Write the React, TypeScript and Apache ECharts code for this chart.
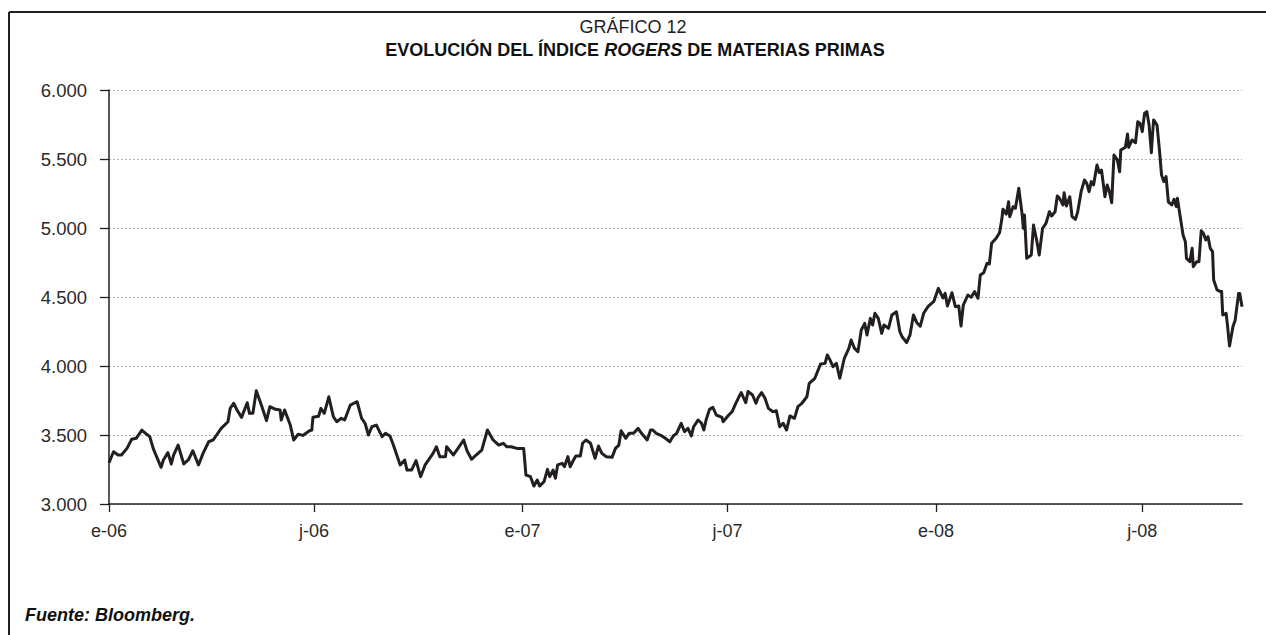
import React, { useEffect, useRef } from "react";
import * as echarts from "echarts";

// Daily category axis: 2006-01-01 + day offset
const START_UTC = Date.UTC(2006, 0, 1);
const DAY_COUNT = 1001;
const TICK_MONTHS = [0, 6];
const MONTH_PREFIX: Record<number, string> = { 0: "e", 6: "j" };

const Y_MIN = 3000;
const Y_MAX = 6000;
const Y_STEP = 500;

const TITLE_TOP = "GRÁFICO 12";
const TITLE_A = "EVOLUCIÓN DEL ÍNDICE ";
const TITLE_ITALIC = "ROGERS";
const TITLE_B = " DE MATERIAS PRIMAS";
const SOURCE = "Fuente: Bloomberg.";

// [day offset from 2006-01-01, index value]
const OBS_2006: [number, number][] = [
  [0, 3299], [4, 3379], [8, 3355], [11, 3355], [16, 3405], [20, 3469], [24, 3476],
  [29, 3536], [33, 3507], [36, 3488], [39, 3403], [42, 3343], [46, 3266], [48, 3319],
  [52, 3372], [55, 3290], [57, 3355], [61, 3427], [66, 3290], [70, 3319], [74, 3386],
  [79, 3283], [83, 3367], [88, 3451], [92, 3464], [95, 3500], [99, 3548], [105, 3596],
  [107, 3693], [110, 3730], [113, 3681], [117, 3628], [122, 3734], [124, 3657], [127, 3657],
  [130, 3821], [135, 3705], [139, 3604], [142, 3705], [147, 3686], [151, 3681], [152, 3609],
  [155, 3681], [160, 3572], [163, 3464], [167, 3505], [171, 3497], [177, 3531], [179, 3536],
  [180, 3628], [185, 3636], [187, 3693], [190, 3657], [194, 3777], [198, 3633], [201, 3596],
  [205, 3621], [208, 3609], [213, 3717], [216, 3730], [219, 3741], [223, 3621], [226, 3585],
  [229, 3500], [232, 3560], [236, 3572], [241, 3488], [244, 3512], [248, 3493], [251, 3427],
  [257, 3283], [261, 3319], [263, 3246], [267, 3246], [271, 3314], [275, 3198], [279, 3283],
  [283, 3331], [286, 3367], [289, 3415], [292, 3343], [297, 3343], [298, 3415], [304, 3355],
  [308, 3403], [313, 3464], [316, 3386], [320, 3324], [324, 3355], [329, 3391], [334, 3536],
  [339, 3464], [344, 3427], [348, 3440], [351, 3415], [355, 3415], [360, 3403], [364, 3403],
];

const OBS_2007: [number, number][] = [
  [366, 3403], [368, 3210], [372, 3198], [375, 3130], [378, 3174], [380, 3130], [384, 3162],
  [387, 3251], [389, 3198], [392, 3246], [394, 3186], [396, 3283], [400, 3295], [402, 3270],
  [405, 3343], [407, 3270], [410, 3319], [412, 3348], [416, 3348], [418, 3440], [421, 3464],
  [425, 3440], [429, 3331], [432, 3420], [435, 3367], [439, 3343], [444, 3338], [447, 3403],
  [450, 3427], [452, 3531], [456, 3476], [459, 3512], [463, 3512], [467, 3548], [470, 3512],
  [475, 3464], [478, 3536], [480, 3536], [483, 3512], [488, 3493], [491, 3476], [495, 3451],
  [498, 3493], [501, 3512], [505, 3585], [508, 3524], [511, 3548], [514, 3493], [516, 3560],
  [520, 3609], [523, 3585], [525, 3536], [527, 3609], [530, 3686], [533, 3700], [536, 3645],
  [541, 3628], [542, 3596], [547, 3645], [550, 3669], [553, 3725], [556, 3777], [558, 3807],
  [562, 3734], [564, 3815], [568, 3790], [571, 3730], [573, 3773], [576, 3807], [579, 3766],
  [582, 3693], [586, 3669], [589, 3676], [592, 3560], [595, 3585], [598, 3536], [601, 3638],
  [605, 3621], [608, 3705], [611, 3725], [616, 3777], [618, 3874], [623, 3911], [628, 4014],
  [632, 4019], [634, 4080], [636, 4049], [639, 3995], [642, 4019], [645, 3911], [649, 4056],
  [653, 4128], [655, 4188], [658, 4128], [661, 4104], [664, 4261], [667, 4309], [669, 4225],
  [672, 4345], [674, 4297], [676, 4382], [679, 4345], [682, 4237], [684, 4297], [688, 4273],
  [691, 4370], [695, 4393], [698, 4249], [700, 4212], [704, 4169], [707, 4225], [710, 4370],
  [713, 4314], [716, 4288], [719, 4382], [723, 4432], [728, 4468],
];

const OBS_2008: [number, number][] = [
  [732, 4563], [736, 4493], [738, 4526], [740, 4435], [744, 4531], [747, 4430], [750, 4435],
  [752, 4290], [754, 4442], [758, 4514], [761, 4498], [764, 4539], [767, 4491], [769, 4659],
  [772, 4676], [775, 4744], [777, 4739], [779, 4889], [783, 4925], [786, 4966], [788, 5063],
  [789, 5136], [792, 5101], [794, 5190], [795, 5082], [798, 5155], [800, 5143], [803, 5288],
  [806, 5094], [807, 4998], [808, 5094], [810, 4780], [814, 4804], [816, 5021], [819, 4901],
  [821, 4804], [824, 4998], [827, 5034], [830, 5118], [832, 5087], [835, 5118], [837, 5232],
  [839, 5215], [842, 5167], [843, 5256], [845, 5160], [848, 5227], [850, 5082], [853, 5063],
  [855, 5118], [858, 5263], [861, 5348], [863, 5324], [865, 5263], [867, 5336], [869, 5312],
  [872, 5457], [874, 5401], [876, 5420], [879, 5227], [881, 5312], [883, 5263], [885, 5183],
  [887, 5529], [890, 5493], [892, 5408], [893, 5565], [897, 5584], [899, 5681], [900, 5584],
  [903, 5638], [906, 5618], [908, 5770], [910, 5758], [912, 5698], [914, 5831], [916, 5843],
  [918, 5746], [920, 5546], [921, 5674], [922, 5783], [925, 5746], [927, 5577], [929, 5384],
  [931, 5336], [933, 5372], [935, 5190], [938, 5167], [940, 5208], [942, 5155], [943, 5215],
  [945, 5106], [948, 4949], [950, 4901], [951, 4780], [954, 4756], [956, 4853], [957, 4720],
  [960, 4756], [962, 4756], [964, 4980], [966, 4961], [968, 4913], [970, 4937], [972, 4853],
  [974, 4829], [975, 4623], [978, 4551], [981, 4539], [982, 4539], [983, 4370], [986, 4382],
  [987, 4309], [989, 4145], [992, 4285], [994, 4333], [997, 4526], [998, 4526], [1000, 4430],
];

const FONT = "'Liberation Sans', Arial, Helvetica, sans-serif";
const INK = "#231f20";

function dayDate(i: number): Date {
  return new Date(START_UTC + i * 86400000);
}

function isTickDay(i: number): boolean {
  const d = dayDate(i);
  return d.getUTCDate() === 1 && TICK_MONTHS.includes(d.getUTCMonth());
}

function fmtThousands(v: number): string {
  const t = Math.floor(v / 1000);
  const r = String(Math.round(v % 1000)).padStart(3, "0");
  return `${t}.${r}`;
}

export default function App() {
  const ref = useRef<HTMLDivElement>(null);

  useEffect(() => {
    if (!ref.current) return;
    const chart = echarts.init(ref.current, undefined, { renderer: "svg" });

    const categories: string[] = [];
    for (let i = 0; i < DAY_COUNT; i++) {
      categories.push(dayDate(i).toISOString().slice(0, 10));
    }
    const series: (number | null)[] = new Array(DAY_COUNT).fill(null);
    [...OBS_2006, ...OBS_2007, ...OBS_2008].forEach(([d, v]) => {
      series[d] = v;
    });

    chart.setOption({
      animation: false,
      backgroundColor: "#ffffff",
      grid: { left: 109, right: 24, top: 90, bottom: 131, containLabel: false },
      xAxis: {
        type: "category",
        data: categories,
        boundaryGap: false,
        axisLine: { show: true, lineStyle: { color: INK, width: 1.5 } },
        axisTick: {
          show: true,
          length: 8,
          interval: (index: number) => isTickDay(index),
          lineStyle: { color: INK, width: 1.3 },
        },
        axisLabel: {
          interval: (index: number) => isTickDay(index),
          margin: 18,
          fontFamily: FONT,
          fontSize: 18,
          color: "#2a2a2a",
          formatter: (value: string) => {
            const m = Number(value.slice(5, 7)) - 1;
            return `${MONTH_PREFIX[m]}-${value.slice(2, 4)}`;
          },
        },
        splitLine: { show: false },
      },
      yAxis: {
        type: "value",
        min: Y_MIN,
        max: Y_MAX,
        interval: Y_STEP,
        axisLine: { show: true, lineStyle: { color: INK, width: 1.5 } },
        axisTick: { show: true, length: 9, lineStyle: { color: INK, width: 1.3 } },
        axisLabel: {
          margin: 22,
          fontFamily: FONT,
          fontSize: 18.5,
          color: "#2a2a2a",
          formatter: (v: number) => fmtThousands(v),
        },
        splitLine: {
          show: true,
          lineStyle: { color: "#b5b5b5", type: [2, 2], width: 1 },
        },
      },
      series: [
        {
          type: "line",
          data: series,
          connectNulls: true,
          showSymbol: false,
          symbol: "none",
          lineStyle: { color: INK, width: 3, join: "round" },
          z: 5,
        },
      ],
      graphic: [
        {
          type: "line",
          shape: { x1: 9, y1: 12, x2: 1266, y2: 12 },
          style: { stroke: INK, lineWidth: 2 },
          silent: true,
        },
        {
          type: "line",
          shape: { x1: 9, y1: 12, x2: 9, y2: 635 },
          style: { stroke: INK, lineWidth: 2 },
          silent: true,
        },
        {
          type: "text",
          x: 633,
          y: 27,
          style: {
            text: TITLE_TOP,
            fontFamily: FONT,
            fontSize: 18,
            fill: "#222",
            align: "center",
            verticalAlign: "middle",
          },
        },
        {
          type: "text",
          x: 635,
          y: 50,
          style: {
            text: `{b|${TITLE_A}}{i|${TITLE_ITALIC}}{b|${TITLE_B}}`,
            align: "center",
            verticalAlign: "middle",
            rich: {
              b: { fontFamily: FONT, fontSize: 18, fontWeight: "bold", fill: "#111" },
              i: {
                fontFamily: FONT,
                fontSize: 18,
                fontWeight: "bold",
                fontStyle: "italic",
                fill: "#111",
              },
            },
          },
        },
        {
          type: "text",
          x: 25,
          y: 615,
          style: {
            text: SOURCE,
            fontFamily: FONT,
            fontSize: 18,
            fontWeight: "bold",
            fontStyle: "italic",
            fill: "#111",
            align: "left",
            verticalAlign: "middle",
          },
        },
      ],
    });

    return () => chart.dispose();
  }, []);

  return (
    <div
      ref={ref}
      style={{ position: "fixed", left: 0, top: 0, width: 1266, height: 635, background: "#fff" }}
    />
  );
}
